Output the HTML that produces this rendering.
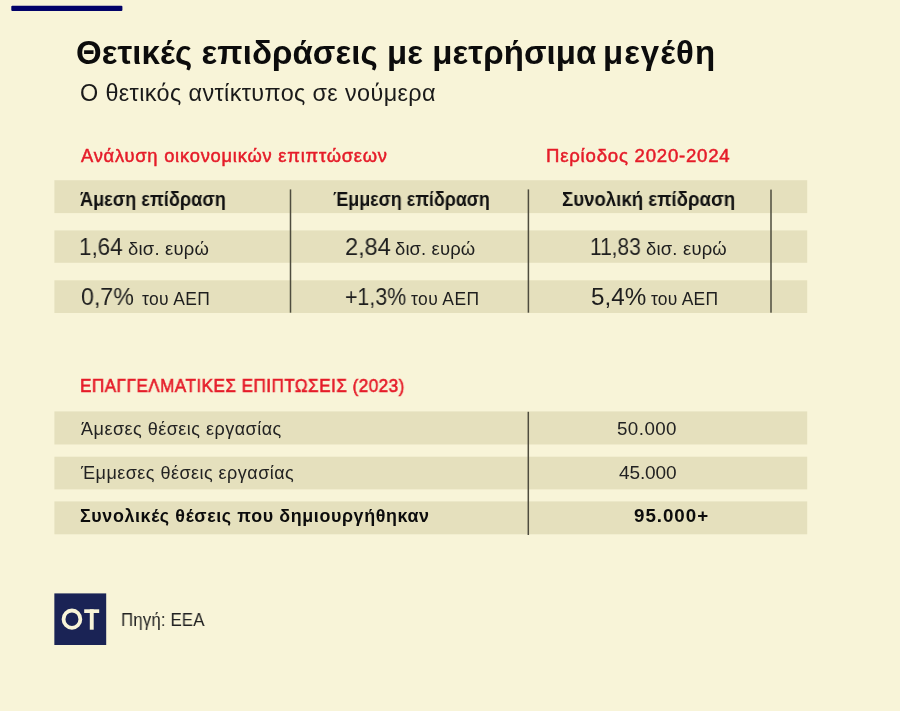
<!DOCTYPE html>
<html><head><meta charset="utf-8">
<style>
html,body{margin:0;padding:0;}
body{width:900px;height:711px;background:#f8f4d8;position:relative;overflow:hidden;font-family:"Liberation Sans",sans-serif;}
.t{position:absolute;white-space:nowrap;line-height:1;will-change:transform;}
svg.bg{position:absolute;left:0;top:0;display:block;}
</style></head><body>
<svg class="bg" width="900" height="711" viewBox="0 0 900 711">
<rect x="11.3" y="5.85" width="111.1" height="5.2" rx="1" fill="#020268"/>
<g fill="#e5e0bd">
<rect x="54.4" y="180.2" width="752.8" height="32.9"/>
<rect x="54.4" y="230.4" width="752.8" height="32.4"/>
<rect x="54.4" y="280.3" width="752.8" height="32.7"/>
<rect x="54.4" y="411.4" width="752.8" height="33.1"/>
<rect x="54.4" y="456.7" width="752.8" height="32.7"/>
<rect x="54.4" y="501.4" width="752.8" height="32.9"/>
</g>
<g fill="#4e4c3e">
<rect x="289.75" y="189.4" width="1.5" height="123.3"/>
<rect x="527.65" y="189.4" width="1.5" height="123.3"/>
<rect x="770.25" y="189.6" width="1.5" height="123.1"/>
<rect x="527.55" y="411.8" width="1.5" height="123.2"/>
</g>
<g transform="translate(54 593)">
<rect x="0.35" y="0.4" width="51.85" height="51.6" fill="#1a2355"/>
<ellipse cx="17.95" cy="26.15" rx="8.4" ry="8.65" fill="none" stroke="#f8f4d8" stroke-width="3.8"/>
<rect x="30.2" y="16.3" width="15" height="3.7" fill="#f8f4d8"/>
<rect x="35.8" y="16.3" width="3.9" height="20.4" fill="#f8f4d8"/>
</g>
</svg>
<div id="title" class="t" style="left:76.00px;top:35.50px;font-size:32.99px;letter-spacing:0.094px;transform:scaleX(1.0000);transform-origin:0 0;font-weight:700;color:#0c0c0c;">Θετικές επιδράσεις με μετρήσιμα</div>
<div id="title2" class="t" style="left:602.90px;top:35.50px;font-size:32.99px;letter-spacing:1.010px;transform:scaleX(1.0000);transform-origin:0 0;font-weight:700;color:#0c0c0c;">μεγέθη</div>
<div id="sub" class="t" style="left:80.00px;top:82.32px;font-size:23.40px;letter-spacing:0.373px;transform:scaleX(1.0000);transform-origin:0 0;font-weight:400;color:#1a1a1a;">Ο θετικός αντίκτυπος σε νούμερα</div>
<div id="red1" class="t" style="left:80.90px;top:147.21px;font-size:18.31px;letter-spacing:0.786px;transform:scaleX(1.0000);transform-origin:0 0;font-weight:400;color:#e51c29;-webkit-text-stroke:0.5px #e51c29">Ανάλυση οικονομικών επιπτώσεων</div>
<div id="red2" class="t" style="left:545.70px;top:147.21px;font-size:18.60px;letter-spacing:0.776px;transform:scaleX(1.0000);transform-origin:0 0;font-weight:400;color:#e51c29;-webkit-text-stroke:0.5px #e51c29">Περίοδος 2020-2024</div>
<div id="h1" class="t" style="left:80.20px;top:189.61px;font-size:19.40px;letter-spacing:0.000px;transform:scaleX(0.9359);transform-origin:0 0;font-weight:700;color:#111111;">Άμεση επίδραση</div>
<div id="h2" class="t" style="left:333.20px;top:189.61px;font-size:19.40px;letter-spacing:0.000px;transform:scaleX(0.9218);transform-origin:0 0;font-weight:700;color:#111111;">Έμμεση επίδραση</div>
<div id="h3" class="t" style="left:562.10px;top:189.61px;font-size:19.40px;letter-spacing:0.000px;transform:scaleX(0.9615);transform-origin:0 0;font-weight:700;color:#111111;">Συνολική επίδραση</div>
<div id="n1" class="t" style="left:79.40px;top:235.20px;font-size:24.13px;letter-spacing:0.000px;transform:scaleX(0.9292);transform-origin:0 0;font-weight:400;color:#1e1e1e;">1,64</div>
<div id="u1" class="t" style="left:127.90px;top:240.21px;font-size:18.46px;letter-spacing:0.225px;transform:scaleX(1.0000);transform-origin:0 0;font-weight:400;color:#1e1e1e;">δισ. ευρώ</div>
<div id="n2" class="t" style="left:345.30px;top:235.20px;font-size:24.13px;letter-spacing:0.000px;transform:scaleX(0.9755);transform-origin:0 0;font-weight:400;color:#1e1e1e;">2,84</div>
<div id="u2" class="t" style="left:395.00px;top:240.21px;font-size:18.46px;letter-spacing:0.125px;transform:scaleX(1.0000);transform-origin:0 0;font-weight:400;color:#1e1e1e;">δισ. ευρώ</div>
<div id="n3" class="t" style="left:590.00px;top:235.20px;font-size:24.13px;letter-spacing:0.000px;transform:scaleX(0.8657);transform-origin:0 0;font-weight:400;color:#1e1e1e;">11,83</div>
<div id="u3" class="t" style="left:645.80px;top:240.21px;font-size:18.46px;letter-spacing:0.200px;transform:scaleX(1.0000);transform-origin:0 0;font-weight:400;color:#1e1e1e;">δισ. ευρώ</div>
<div id="p1" class="t" style="left:80.50px;top:285.20px;font-size:24.13px;letter-spacing:0.000px;transform:scaleX(0.9623);transform-origin:0 0;font-weight:400;color:#1e1e1e;">0,7%</div>
<div id="t1" class="t" style="left:142.40px;top:291.21px;font-size:17.44px;letter-spacing:0.367px;transform:scaleX(1.0000);transform-origin:0 0;font-weight:400;color:#1e1e1e;">του ΑΕΠ</div>
<div id="p2" class="t" style="left:345.30px;top:285.20px;font-size:24.13px;letter-spacing:0.000px;transform:scaleX(0.8851);transform-origin:0 0;font-weight:400;color:#1e1e1e;">+1,3%</div>
<div id="t2" class="t" style="left:411.40px;top:291.21px;font-size:17.44px;letter-spacing:0.400px;transform:scaleX(1.0000);transform-origin:0 0;font-weight:400;color:#1e1e1e;">του ΑΕΠ</div>
<div id="p3" class="t" style="left:590.50px;top:285.20px;font-size:24.13px;letter-spacing:0.000px;transform:scaleX(1.0043);transform-origin:0 0;font-weight:400;color:#1e1e1e;">5,4%</div>
<div id="t3" class="t" style="left:651.20px;top:291.21px;font-size:17.44px;letter-spacing:0.233px;transform:scaleX(1.0000);transform-origin:0 0;font-weight:400;color:#1e1e1e;">του ΑΕΠ</div>
<div id="red3" class="t" style="left:80.40px;top:377.00px;font-size:18.75px;letter-spacing:0.500px;transform:scaleX(0.9130);transform-origin:0 0;font-weight:400;color:#e51c29;-webkit-text-stroke:0.6px #e51c29">ΕΠΑΓΓΕΛΜΑΤΙΚΕΣ ΕΠΙΠΤΩΣΕΙΣ (2023)</div>
<div id="r1" class="t" style="left:80.60px;top:420.20px;font-size:18.02px;letter-spacing:0.486px;transform:scaleX(1.0000);transform-origin:0 0;font-weight:400;color:#222222;">Άμεσες θέσεις εργασίας</div>
<div id="r2" class="t" style="left:81.10px;top:464.10px;font-size:18.02px;letter-spacing:0.464px;transform:scaleX(1.0000);transform-origin:0 0;font-weight:400;color:#222222;">Έμμεσες θέσεις εργασίας</div>
<div id="r3" class="t" style="left:80.10px;top:507.90px;font-size:17.88px;letter-spacing:0.624px;transform:scaleX(1.0000);transform-origin:0 0;font-weight:700;color:#0c0c0c;">Συνολικές θέσεις που δημιουργήθηκαν</div>
<div id="v1" class="t" style="left:616.50px;top:420.41px;font-size:18.75px;letter-spacing:0.440px;transform:scaleX(1.0000);transform-origin:0 0;font-weight:400;color:#222222;">50.000</div>
<div id="v2" class="t" style="left:618.70px;top:462.61px;font-size:19.04px;letter-spacing:-0.120px;transform:scaleX(1.0000);transform-origin:0 0;font-weight:400;color:#222222;">45.000</div>
<div id="v3" class="t" style="left:634.10px;top:506.70px;font-size:18.75px;letter-spacing:0.967px;transform:scaleX(1.0000);transform-origin:0 0;font-weight:700;color:#0c0c0c;">95.000+</div>
<div id="src" class="t" style="left:121.30px;top:609.91px;font-size:19.04px;letter-spacing:0.200px;transform:scaleX(0.8810);transform-origin:0 0;font-weight:400;color:#222222;">Πηγή: ΕΕΑ</div>
</body></html>
